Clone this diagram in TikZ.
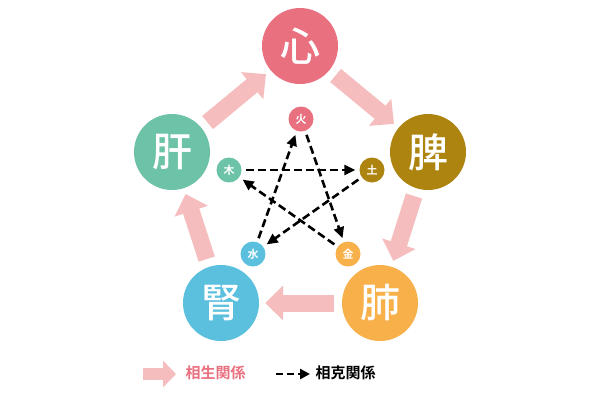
\documentclass[tikz,border=0pt]{standalone}
\usepackage{fontspec}
\newfontfamily\cjk{Noto Sans CJK JP Medium}
\newfontfamily\cjkb{Noto Sans CJK JP Bold}
\usetikzlibrary{arrows.meta}
\definecolor{cxin}{HTML}{E9707F}
\definecolor{cpi}{HTML}{AC840F}
\definecolor{cfei}{HTML}{F7B04A}
\definecolor{cshen}{HTML}{5BC0DE}
\definecolor{cgan}{HTML}{6DC3A7}
\definecolor{cfat}{HTML}{F5BDBD}
\tikzset{
 big/.style={circle,minimum size=76pt,inner sep=0pt,text=white,font=\cjk\fontsize{40}{40}\selectfont},
 small/.style={circle,minimum size=25pt,inner sep=0pt,text=white,font=\cjkb\fontsize{11}{11}\selectfont},
 fat/.style={cfat,line width=17pt,-{Triangle[width=34pt,length=18pt]},shorten <=8pt,shorten >=6pt},
 dsh/.style={black,line width=2.6pt,dash pattern=on 8pt off 4pt,-{Triangle[width=10pt,length=11pt]},shorten <=4pt,shorten >=4pt}
}
\begin{document}
\begin{tikzpicture}[x=1pt,y=-1pt]
\useasboundingbox[fill=white] (0,0) rectangle (600,400);
\node[big,fill=cxin] (xin) at (300,46) {心};
\node[big,fill=cpi] (pi) at (428,152) {脾};
\node[big,fill=cfei] (fei) at (380,303) {肺};
\node[big,fill=cshen] (shen) at (221,303) {腎};
\node[big,fill=cgan] (gan) at (172,152) {肝};
\node[small,fill=cxin] (huo) at (301,119) {火};
\node[small,fill=cpi] (tu) at (372,170) {土};
\node[small,fill=cfei] (jin) at (348,254) {金};
\node[small,fill=cshen] (shui) at (253,254) {水};
\node[small,fill=cgan] (mu) at (229,170) {木};
\draw[fat] (gan) -- (xin);
\draw[fat] (xin) -- (pi);
\draw[fat] (pi) -- (fei);
\draw[fat] (fei) -- (shen);
\draw[fat] (shen) -- (gan);
\draw[dsh] (mu) -- (tu);
\draw[dsh] (tu) -- (shui);
\draw[dsh] (shui) -- (huo);
\draw[dsh] (huo) -- (jin);
\draw[dsh] (jin) -- (mu);
\coordinate (la) at (143,374); \coordinate (lb) at (176,374);
\draw[cfat,line width=12pt,-{Triangle[width=26pt,length=13pt]}] (la) -- (lb);
\node[anchor=west,text=cxin,font=\cjkb\fontsize{15}{15}\selectfont] (l1) at (182,373) {相生関係};
\coordinate (da) at (276,374); \coordinate (db) at (310,374);
\draw[black,line width=2.6pt,dash pattern=on 7pt off 4pt,-{Triangle[width=10pt,length=10pt]}] (da) -- (db);
\node[anchor=west,font=\cjkb\fontsize{15}{15}\selectfont] (l2) at (312,373) {相克関係};
\end{tikzpicture}
\end{document}
